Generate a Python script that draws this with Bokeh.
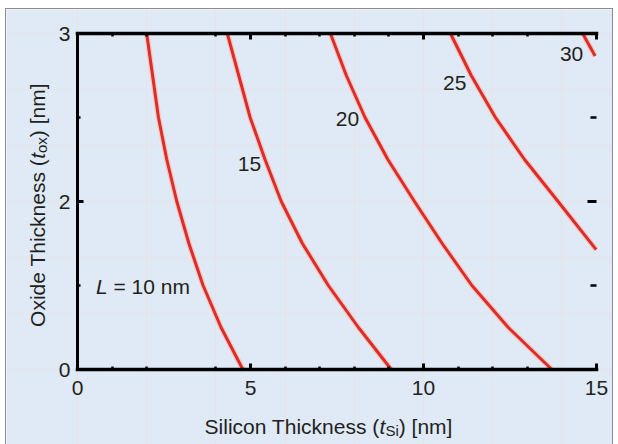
import math
from bokeh.plotting import figure
from bokeh.models import LinearAxis, FixedTicker, Label, Range1d
from bokeh.embed import file_html
from bokeh.resources import INLINE

# ---------------- data ----------------
x_ticks = [0, 5, 10, 15]
x_minor_ticks = [1, 2, 4, 6, 7, 8, 9, 11, 12, 13]
y_ticks = [0, 1.5, 3]
y_tick_labels = ["0", "2", "3"]
y_minor_ticks = [0.75, 2.25]

l10_x = [2.00, 2.17, 2.34, 2.58, 2.87, 3.22, 3.63, 4.15, 4.78]
l10_y = [3.00, 2.625, 2.25, 1.875, 1.50, 1.125, 0.75, 0.375, 0.00]
l15_x = [4.33, 4.66, 4.99, 5.42, 5.89, 6.50, 7.25, 8.12, 9.07]
l15_y = [3.00, 2.625, 2.25, 1.875, 1.50, 1.125, 0.75, 0.375, 0.00]
l20_x = [7.31, 7.77, 8.31, 8.97, 9.74, 10.54, 11.40, 12.45, 13.71]
l20_y = [3.00, 2.625, 2.25, 1.875, 1.50, 1.125, 0.75, 0.375, 0.00]
l25_x = [10.78, 11.38, 12.08, 12.92, 13.89, 14.99]
l25_y = [3.00, 2.625, 2.25, 1.875, 1.50, 1.07]
l30_x = [14.60, 14.96]
l30_y = [3.00, 2.80]

curve_label_text = ["15", "20", "25", "30"]
curve_label_x = [4.97, 7.80, 10.90, 14.28]
curve_label_y = [1.835, 2.24, 2.56, 2.82]

# ---------------- style ----------------
BG = "#dfeaf6"
TXT = "#231f20"
FONT = "Liberation Sans"
CW, CH = 606, 435            # canvas (= frame) size
PLOT_L, PLOT_R = 71, 590     # x = 0 / 15 in canvas px
PLOT_T, PLOT_B = 24, 360     # y = 3 / 0 in canvas px
PX_X = (PLOT_R - PLOT_L) / 15.0
PX_Y = (PLOT_B - PLOT_T) / 3.0

W = {' ': 278, '(': 333, ')': 333, '[': 278, ']': 278, '=': 584,
     '0': 556, '1': 556, 'S': 667, 'i': 222, 'l': 222, 'c': 500, 'o': 556,
     'n': 556, 'T': 611, 'h': 556, 'k': 500, 'e': 556, 's': 500, 't': 278,
     'm': 833, 'O': 778, 'x': 500, 'd': 556, 'L': 556}


def tw(s, size):
    return sum(W.get(ch, 556) for ch in s) * size / 1000.0


x_range = Range1d(-PLOT_L / PX_X, 15 + (CW - PLOT_R) / PX_X)
y_range = Range1d(-(CH - PLOT_B) / PX_Y, 3 + PLOT_T / PX_Y)

p = figure(frame_width=CW, frame_height=CH,
           x_range=x_range, y_range=y_range,
           output_backend="svg", toolbar_location=None,
           x_axis_location=None, y_axis_location=None,
           min_border=0,
           background_fill_color=BG, border_fill_color=BG,
           outline_line_color=None, margin=(8, 0, 0, 5))
p.styles = {"border-left": "1px solid #8c8c8c",
            "border-top": "1px solid #8c8c8c",
            "border-right": "1px solid #8c8c8c"}


def style_axis(ax, show_labels, line=True, lw=3.5, maj_in=6, min_in=3):
    ax.axis_line_color = "black" if line else None
    ax.axis_line_width = lw
    ax.axis_line_cap = "square"
    ax.major_tick_line_color = "black"
    ax.major_tick_line_width = 3
    ax.major_tick_in = maj_in
    ax.major_tick_out = 0
    ax.minor_tick_line_color = "black"
    ax.minor_tick_line_width = 2.5
    ax.minor_tick_in = min_in
    ax.minor_tick_out = 0
    if show_labels:
        ax.major_label_text_font = FONT
        ax.major_label_text_font_size = "21px"
        ax.major_label_text_color = TXT
    else:
        ax.major_label_text_font_size = "0px"
        ax.major_label_text_alpha = 0


xt = FixedTicker(ticks=x_ticks, minor_ticks=x_minor_ticks)
yt = FixedTicker(ticks=y_ticks, minor_ticks=y_minor_ticks)

xb = LinearAxis(ticker=xt, fixed_location=0, bounds=(0, 15))
style_axis(xb, True)
xb.major_label_standoff = 11
p.add_layout(xb, "below")

xa = LinearAxis(ticker=xt, fixed_location=3, bounds=(0, 15))
style_axis(xa, False)
p.add_layout(xa, "above")

yl = LinearAxis(ticker=yt, fixed_location=0, bounds=(0, 3))
style_axis(yl, True, lw=3)
yl.major_label_standoff = 7
yl.major_label_overrides = {t: s for t, s in zip(y_ticks, y_tick_labels)}
p.add_layout(yl, "left")

yr = LinearAxis(ticker=yt, fixed_location=15, bounds=(0, 3))
style_axis(yr, False, line=False, maj_in=9, min_in=6)
p.add_layout(yr, "right")

# ---------------- curves ----------------
for xs, ys in [(l10_x, l10_y), (l15_x, l15_y), (l20_x, l20_y),
               (l25_x, l25_y), (l30_x, l30_y)]:
    p.line(xs, ys, line_color="#f6c4b9", line_width=5.5, line_alpha=0.9,
           line_join="round")
    p.line(xs, ys, line_color="#dc2d2d", line_width=3, line_join="round")

for t, x, y in zip(curve_label_text, curve_label_x, curve_label_y):
    p.add_layout(Label(x=x, y=y, text=t, text_font=FONT, text_font_size="21px",
                       text_color=TXT, text_align="center", text_baseline="middle"))

# "L = 10 nm" label
LS = 21
l_start_px = 95.5 - 77.0
l_y = 0.737
p.add_layout(Label(x=l_start_px / PX_X, y=l_y, text="L", text_font=FONT,
                   text_font_style="italic", text_font_size=f"{LS}px",
                   text_color=TXT, text_align="left", text_baseline="middle"))
p.add_layout(Label(x=(l_start_px + tw("L ", LS)) / PX_X, y=l_y, text="= 10 nm",
                   text_font=FONT, text_font_size=f"{LS}px",
                   text_color=TXT, text_align="left", text_baseline="middle"))

# ---------------- axis titles ----------------
TS = 21
SS = 15
SUB = 4


def pieces(prefix, var, sub, suffix):
    return [(prefix, "normal", TS, 0), (var, "italic", TS, 0),
            (sub, "normal", SS, SUB), (suffix, "normal", TS, 0)]


def place(s, st, sz, x, y, angle=0.0):
    p.add_layout(Label(x=x, y=y, text=s, text_font=FONT, text_font_style=st,
                       text_font_size=f"{sz}px", text_color=TXT,
                       text_align="left", text_baseline="alphabetic", angle=angle))


# x title
xp = pieces("Silicon Thickness (", "t", "Si", ") [nm]")
total = sum(tw(s, sz) for s, _, sz, _ in xp)
cur = (328.0 - 77.0) - total / 2
base_y = (369.3 - 426.0) / PX_Y
for s, st, sz, sh in xp:
    lead = tw(s[:len(s) - len(s.lstrip())], sz)
    place(s.strip() if s.strip() != s else s, st, sz, (cur + lead) / PX_X, base_y - sh / PX_Y)
    cur += tw(s, sz)

# y title (rotated)
yp = pieces("Oxide Thickness (", "t", "ox", ") [nm]")
total = sum(tw(s, sz) for s, _, sz, _ in yp)
cur = (369.3 - 205.0) - total / 2
base_x = (37.0 - 77.0) / PX_X
for s, st, sz, sh in yp:
    lead = tw(s[:len(s) - len(s.lstrip())], sz)
    place(s.strip() if s.strip() != s else s, st, sz, base_x + sh / PX_X,
          (cur + lead) / PX_Y, angle=math.pi / 2)
    cur += tw(s, sz)

open("out.html", "w").write(file_html(p, INLINE))
